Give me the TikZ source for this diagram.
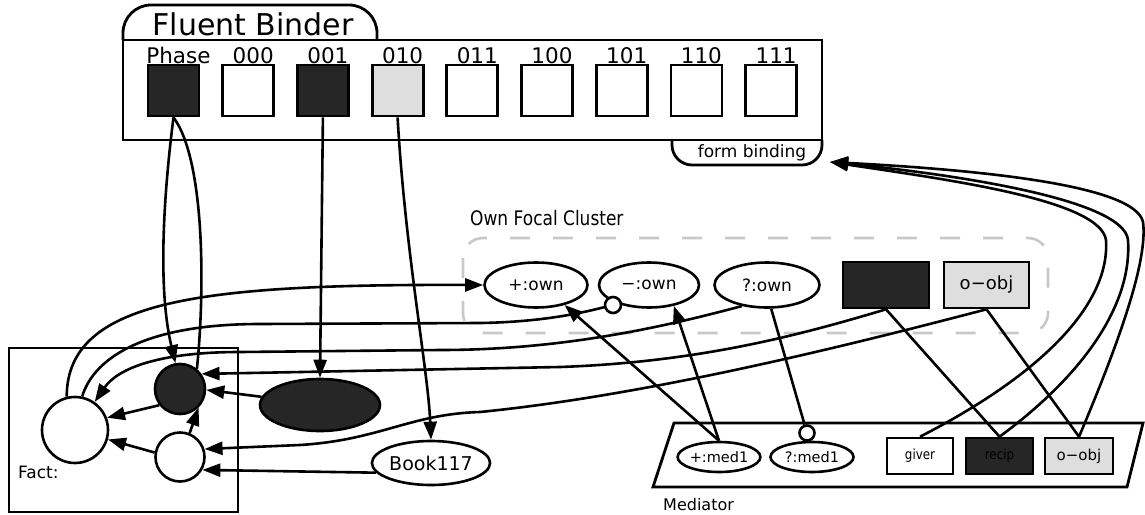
\documentclass[tikz,border=0pt]{standalone}
\usepackage{fontspec}
\setmainfont{DejaVu Sans}
\newfontfamily\narrowfont[FakeStretch=0.85]{DejaVu Sans}
\usetikzlibrary{arrows.meta,shapes.geometric}
\definecolor{darkfill}{HTML}{262626}
\definecolor{lightfill}{HTML}{DEDEDE}
\definecolor{clustergray}{HTML}{C8C8C8}
\newcommand{\fsz}[1]{\fontsize{#1}{#1}\selectfont}

\begin{document}
\begin{tikzpicture}[x=1pt,y=-1pt,
  link/.style={line width=2.6pt},
  arr/.style={line width=2.6pt,-{Triangle[length=18pt,width=13pt]}},
  frame/.style={draw,line width=2.8pt},
  slot/.style={draw,line width=2.8pt,minimum width=51pt,minimum height=51pt,inner sep=0pt},
  slotlabel/.style={anchor=base,inner sep=0pt,font=\fsz{21.5}},
  oval/.style={ellipse,draw,fill=white,line width=2.6pt,inner sep=0pt},
  ball/.style={circle,draw,line width=2.6pt,inner sep=0pt},
  inhib/.style={circle,draw,fill=white,line width=2.6pt,inner sep=0pt,minimum size=16pt},
  role/.style={rectangle,draw,line width=2.6pt,inner sep=0pt},
  caption/.style={anchor=base west,inner sep=0pt}
]
\useasboundingbox (0,0) rectangle (1145,514);

% ---------- Fluent binder ----------
\draw[frame] (123,40) rectangle (822,140);
\draw[frame,rounded corners=28pt] (123,40) -- (123,5) -- (377,5) -- (377,40);
\draw[frame,rounded corners=20pt] (672,140) -- (672,165) -- (822,165) -- (822,140);
\node[anchor=base,inner sep=0pt,font=\fsz{30}] (fbtitle) at (253,35) {Fluent Binder};
\node[anchor=base,inner sep=0pt,font=\fsz{17}] (fbform) at (752,157) {form binding};
\coordinate (fbin) at (830,162);

\foreach \lab/\fillc [count=\i from 0] in
  {Phase/darkfill,000/white,001/darkfill,010/lightfill,011/white,100/white,101/white,110/white,111/white} {
  \node[slot,fill=\fillc] (sq\i) at ({173.5+74.7*\i},90.5) {};
  \node[slotlabel] (lab\i) at ({178.5+74.7*\i},63) {\lab};
}

% ---------- Own focal cluster ----------
\draw[clustergray,line width=2.6pt,dash pattern=on 20pt off 23pt,rounded corners=20pt]
  (463,238) rectangle (1048,333);
\node[caption,font=\narrowfont\fsz{20}] (oclabel) at (470,225) {Own Focal Cluster};
\node[oval,minimum width=103pt,minimum height=45pt,font=\fsz{17}] (pown) at (536,285) {+:own};
\node[oval,minimum width=100pt,minimum height=45pt,font=\fsz{17}] (nown) at (649,285) {−:own};
\node[oval,minimum width=105pt,minimum height=45pt,font=\fsz{17}] (qown) at (767,285) {?:own};
\node[role,fill=darkfill,minimum width=86pt,minimum height=46pt] (crect) at (886,285) {};
\node[role,fill=lightfill,minimum width=85pt,minimum height=46pt,font=\fsz{18}] (cobj) at (986.5,285) {o−obj};
\node[inhib] (inh1) at (613,305) {};

% ---------- Fact ----------
\draw[frame] (9,348) rectangle (238,512);
\node[caption,font=\fsz{17}] (factlabel) at (18,478) {Fact:};
\node[ball,fill=white,minimum size=66pt] (bc) at (75,430) {};
\node[ball,fill=darkfill,minimum size=50pt] (dc) at (180,389) {};
\node[ball,fill=white,minimum size=49pt] (sc) at (180,457) {};
\node[oval,fill=darkfill,minimum width=120pt,minimum height=52pt] (del) at (320,405) {};
\node[oval,minimum width=106pt,minimum height=44pt,font=\fsz{19}] (book) at (431,463) {Book117};

% ---------- Mediator ----------
\draw[frame] (674,423) -- (1143,423) -- (1127,487) -- (653,487) -- cycle;
\node[caption,font=\fsz{16}] (medlabel) at (663,510) {Mediator};
\node[oval,minimum width=82pt,minimum height=30pt,font=\fsz{14.5}] (m1) at (719,457) {+:med1};
\node[oval,minimum width=83pt,minimum height=30pt,font=\fsz{14.5}] (mq) at (812,457) {?:med1};
\node[inhib,minimum size=15pt] (inh2) at (807,433) {};
\node[role,fill=white,minimum width=66pt,minimum height=36pt,font=\narrowfont\fsz{14}] (giver) at (920,456) {giver};
\node[role,fill=darkfill,minimum width=67pt,minimum height=36pt,font=\narrowfont\fsz{14}] (recip) at (999.5,456) {recip};
\node[role,fill=lightfill,minimum width=68pt,minimum height=36pt,font=\fsz{15}] (mobj) at (1079,456) {o−obj};

% ---------- connectors: binder to fact ----------
\draw[arr] (sq0.south) .. controls (163,200) and (158,290) .. (dc.100);
\draw[link] (dc.50) .. controls (205,290) and (205,160) .. (sq0.south);
\draw[arr] (sq2.south) -- (del.north);
\draw[arr] (sq3.south) .. controls (405,250) and (428,370) .. (book.north);

% ---------- connectors inside the fact ----------
\draw[arr] (dc.218) -- (bc.21);
\draw[arr] (sc.170) -- (bc.-16);
\draw[arr] (sc.68) -- (dc.-45);
\draw[arr] (del.172) -- (dc.-2);
\draw[arr] (book.190) -- (sc.-30);

% ---------- connectors between fact and cluster ----------
\draw[arr] (bc.104) .. controls (67,300) and (200,284) .. (pown.west);
\draw[link] (bc.78) .. controls (95,355) and (150,324) .. (260,324) -- (480,323)
  .. controls (545,322) and (585,312) .. (inh1);
\draw[arr] (qown.-140) .. controls (660,328) and (560,350) .. (440,350) -- (240,352)
  .. controls (160,352) and (118,368) .. (bc.55);
\draw[arr] (crect.south) .. controls (800,335) and (700,362) .. (560,367) -- (dc.35);
\draw[arr] (cobj.south) .. controls (850,345) and (650,395) .. (480,412)
  .. controls (410,414) and (380,440) .. (300,445) -- (sc.18);

% ---------- connectors between mediator and cluster ----------
\draw[arr] (m1.north) -- (pown.-35);
\draw[arr] (m1.north) -- (nown.-40);
\draw[link] (qown.-80) -- (inh2);
\draw[link] (crect.south) -- (recip.north);
\draw[link] (cobj.south) -- (mobj.north);

% ---------- mediator roles back to form binding ----------
\draw[arr] (giver.north) .. controls (1050,370) and (1110,300) .. (1106,240)
  .. controls (1100,200) and (950,180) .. (fbin);
\draw[arr] (recip.north) .. controls (1090,370) and (1132,300) .. (1128,240)
  .. controls (1124,200) and (960,175) .. (fbin);
\draw[arr] (mobj.north) .. controls (1120,340) and (1148,260) .. (1143,222)
  .. controls (1135,185) and (980,170) .. (fbin);
\end{tikzpicture}
\end{document}
